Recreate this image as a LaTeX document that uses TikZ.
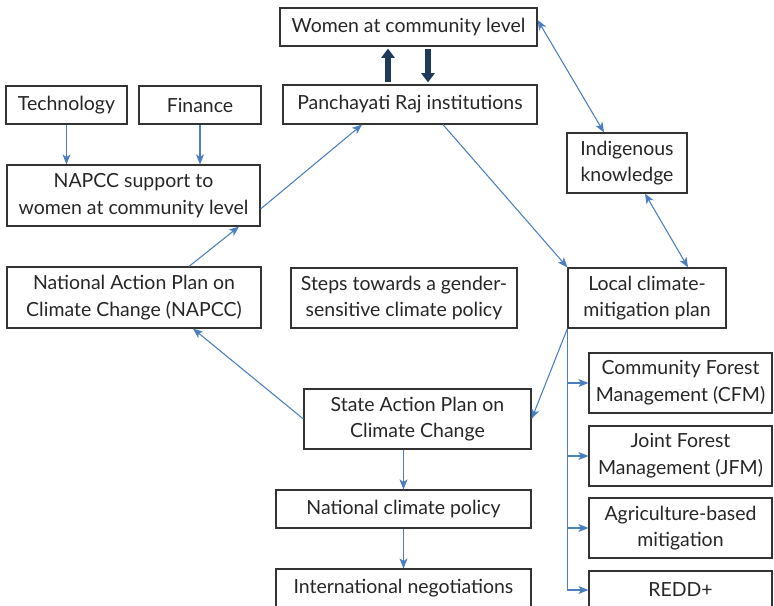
\documentclass[tikz,border=0pt]{standalone}
\usepackage{fontspec}
\setmainfont{Lato}
\usetikzlibrary{arrows.meta,calc}
\definecolor{linkblue}{HTML}{4A7EBF}
\definecolor{navy}{HTML}{1F3A5A}
\definecolor{boxline}{HTML}{333333}

\begin{document}
\begin{tikzpicture}[x=0.75pt, y=-0.75pt,
        box/.style={rectangle, draw=boxline, line width=0.9pt, align=center, inner sep=0pt, text=black!85, font=\fontsize{14.6}{20}\selectfont},
        wh/.style 2 args={minimum width=#1*0.75pt, minimum height=#2*0.75pt},
        link/.style={draw=linkblue, line width=0.8pt, -{Stealth[length=7.5pt, width=6pt, inset=2pt]}},
        both/.style={link, {Stealth[length=7.5pt, width=6pt, inset=2pt]}-{Stealth[length=7.5pt, width=6pt, inset=2pt]}},
        bigarrow/.style={draw=navy, line width=4.5pt, -{Triangle[length=7pt, width=10pt]}, shorten <=1.5pt, shorten >=1.5pt}
    ]
    \clip (0,0) rectangle (774,606);

    % Define boxes
    \node[box, wh={257}{38}] (women) at (408.5, 27) {Women at community level};
    \node[box, wh={254}{39}] (panch) at (410, 104.5) {Panchayati Raj institutions};
    \node[box, wh={121}{38}] (tech) at (66.5, 105) {Technology};
    \node[box, wh={122}{38}] (fin) at (200, 105) {Finance};
    \node[box, wh={253}{61}] (support) at (133.5, 195.5) {NAPCC support to\\women at community level};
    \node[box, wh={120}{60}] (indig) at (627, 163) {Indigenous\\knowledge};
    \node[box, wh={158}{60}] (local) at (647, 298) {Local climate-\\mitigation plan};
    \node[box, wh={254}{61}] (nap) at (134, 297.5) {National Action Plan on\\Climate Change (NAPCC)};
    \node[box, wh={226}{60}] (steps) at (404, 298) {Steps towards a gender-\\sensitive climate policy};
    \node[box, wh={227}{60}] (sapcc) at (417.5, 419) {State Action Plan on\\Climate Change};
    \node[box, wh={255}{38}] (natpol) at (403.5, 509) {National climate policy};
    \node[box, wh={255}{38}] (intl) at (403.5, 588) {International negotiations};
    \node[box, wh={183}{60}] (cfm) at (680.5, 383) {Community Forest\\Management (CFM)};
    \node[box, wh={183}{60}] (jfm) at (680.5, 456) {Joint Forest\\Management (JFM)};
    \node[box, wh={183}{60}] (agri) at (680.5, 528) {Agriculture-based\\mitigation};
    \node[box, wh={183}{38}] (redd) at (680.5, 590) {REDD+};

    % Connectors
    \draw[bigarrow] ($(panch.north)+(-22,0)$) -- ($(women.south)+(-20.5,0)$);
    \draw[bigarrow] ($(women.south)+(19.5,0)$) -- ($(panch.north)+(18,0)$);
    \draw[link] (tech) -- (tech |- support.north);
    \draw[link] (fin) -- (fin |- support.north);
    \draw[link] ($(support.east)+(0,13.5)$) -- ($(panch.south)+(-48,0)$);
    \draw[link] ($(panch.south)+(33,0)$) -- (local.north west);
    \draw[both] ($(women.east)+(0,-7)$) -- ($(indig.north)+(-23,0)$);
    \draw[both] ($(indig.south)+(18,0)$) -- ($(local.north)+(41,0)$);
    \draw[link] ($(nap.north)+(55,0)$) -- ($(support.south)+(105.5,0)$);
    \draw[link] (sapcc.west) -- ($(nap.south)+(59,0)$);
    \draw[link] (local.south west) -- (sapcc.east);
    \draw[link] (natpol.north |- sapcc.south) -- (natpol.north);
    \draw[link] (natpol) -- (intl);
    \draw[draw=linkblue, line width=0.8pt] (local.south west) -- (local.south west |- redd.west);
    \foreach \n in {cfm, jfm, agri, redd}
        \draw[link] (local.south west |- \n.west) -- (\n.west);

\end{tikzpicture}
\end{document}
